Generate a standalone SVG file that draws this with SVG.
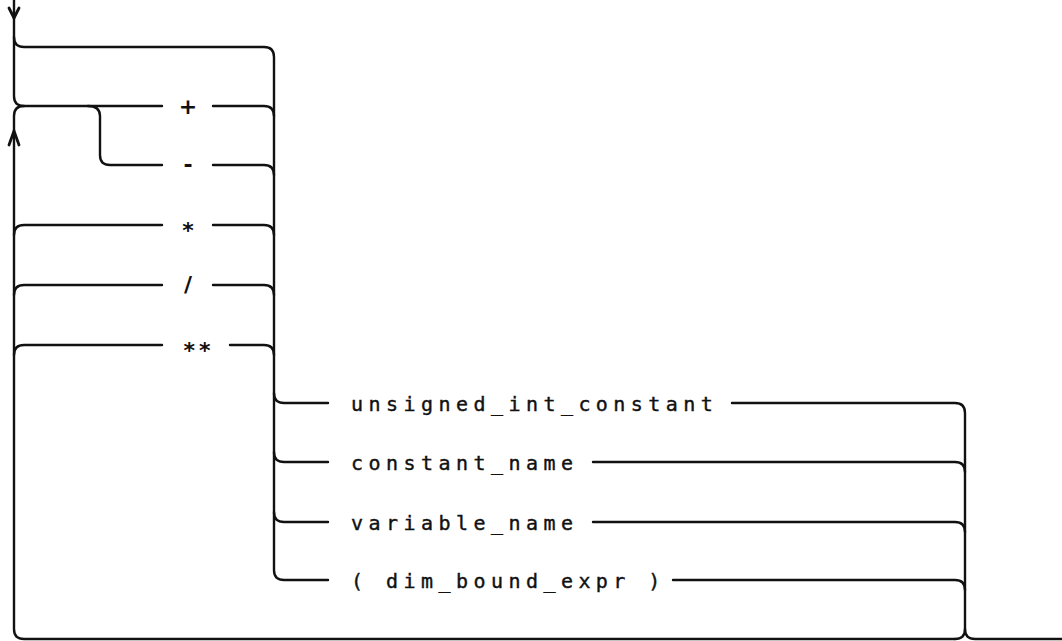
<svg xmlns="http://www.w3.org/2000/svg" width="1062" height="641" viewBox="0 0 1062 641">
<style>
.c{fill:none;stroke:#111;stroke-width:2.4;stroke-linecap:round;stroke-linejoin:round}
.a{fill:none;stroke:#111;stroke-width:2.8;stroke-linecap:round;stroke-linejoin:miter}
.t{font-family:"DejaVu Sans Mono","Liberation Mono",monospace;font-size:20px;letter-spacing:5.45px;fill:#111;stroke:#111;stroke-width:0.4}
.o{font-family:"DejaVu Sans","Liberation Sans",sans-serif;font-size:22px;font-weight:bold;fill:#111;text-anchor:middle}
</style>
<rect width="1062" height="641" fill="#fff"/>
<g id="connectors">
<path class="c" d="M14,0 V96 Q14,106 24,106 H162"/>
<path class="a" d="M9,8 L14,18 L19,8"/>
<path class="c" d="M14,37 Q14,47 24,47 H264 Q274,47 274,57 V570 Q274,580 284,580 H328"/>
<path class="c" d="M88,106 Q100,106 100,116 V155 Q100,165 110,165 H162"/>
<path class="c" d="M213,106 H264 Q274,106 274,116"/>
<path class="c" d="M213,165 H264 Q274,165 274,175"/>
<path class="c" d="M14,235 Q14,225 24,225 H162"/>
<path class="c" d="M213,225 H264 Q274,225 274,235"/>
<path class="c" d="M14,295 Q14,285 24,285 H162"/>
<path class="c" d="M213,285 H264 Q274,285 274,295"/>
<path class="c" d="M14,355 Q14,345 24,345 H162"/>
<path class="c" d="M230,345 H264 Q274,345 274,355"/>
<path class="c" d="M955,639 H24 Q14,639 14,629 V116 Q14,106 24,106"/>
<path class="a" d="M9,145 L14,131 L19,145"/>
<path class="c" d="M274,393 Q274,403 284,403 H328"/>
<path class="c" d="M274,452 Q274,462 284,462 H328"/>
<path class="c" d="M274,512 Q274,522 284,522 H328"/>
<path class="c" d="M732,403 H955 Q965,403 965,413 V629 Q965,639 955,639"/>
<path class="c" d="M965,629 Q965,639 975,639 H1062"/>
<path class="c" d="M593,462 H955 Q965,462 965,472"/>
<path class="c" d="M593,522 H955 Q965,522 965,532"/>
<path class="c" d="M673,580 H955 Q965,580 965,590"/>
</g>
<g id="op_plus"><text class="o" x="188" y="113.5">+</text></g>
<g id="op_minus"><text class="o" x="188" y="172">-</text></g>
<g id="op_mul"><text class="o" x="188" y="238">*</text></g>
<g id="op_div"><text class="o" x="188" y="292">/</text></g>
<g id="op_pow"><text class="o" x="199" y="358" style="letter-spacing:4px">**</text></g>
<g id="unsigned_int_constant"><text class="t" x="351" y="411">unsigned_int_constant</text></g>
<g id="constant_name"><text class="t" x="351" y="470">constant_name</text></g>
<g id="variable_name"><text class="t" x="351" y="530">variable_name</text></g>
<g id="dim_bound_expr"><text class="t" x="351" y="588">( dim_bound_expr )</text></g>
</svg>
